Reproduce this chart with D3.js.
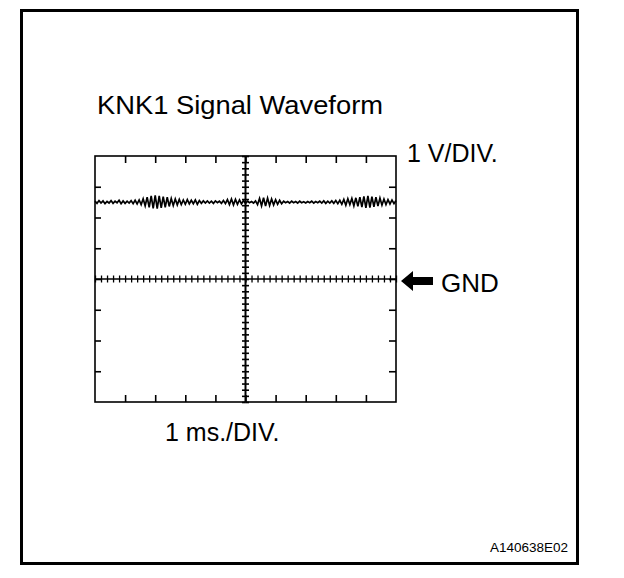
<!DOCTYPE html>
<html><head><meta charset="utf-8">
<script src="https://cdn.jsdelivr.net/npm/d3@7"></script>
<style>
html,body{margin:0;padding:0;background:#fff;}
svg{display:block;font-family:"Liberation Sans",Arial,Helvetica,sans-serif;}
</style></head>
<body>
<svg id="c" width="624" height="578"></svg>
<script>
// ---- data ----
const title = "KNK1 Signal Waveform";
const voltLabel = "1 V/DIV.";
const timeLabel = "1 ms./DIV.";
const gndLabel = "GND";
const figureId = "A140638E02";
const timeDomainMs = [0, 10];          // 10 divisions x 1 ms
const voltDomain = [-4, 4];            // 8 divisions x 1 V, GND at 0
const majorTimeTicks = [0,1,2,3,4,5,6,7,8,9,10];
const majorVoltTicks = [-4,-3,-2,-1,0,1,2,3,4];
// knock sensor signal samples (V), evenly sampled over 0..10 ms
const signalVolts = [
 2.53,2.46,2.55,2.47,2.54,2.45,2.52,2.47,2.55,2.46,2.53,2.48,2.56,2.45,2.54,2.46,2.53,2.47,2.55,2.45,2.56,2.44,2.57,
 2.42,2.61,2.38,2.66,2.33,2.70,2.30,2.72,2.29,2.70,2.31,2.68,2.33,2.66,2.36,2.62,2.39,2.60,
 2.41,2.59,2.42,2.57,2.43,2.58,2.44,2.56,2.45,2.57,2.43,2.55,2.46,2.54,2.47,
 2.54,2.47,2.53,2.46,2.54,2.48,2.53,2.46,2.55,2.45,
 2.58,2.42,2.60,2.41,2.59,2.43,2.57,2.44,2.55,2.46,
 2.53,2.48,2.52,2.47,2.54,
 2.42,2.62,2.38,2.64,2.37,2.63,2.39,2.60,2.41,2.58,2.43,2.56,2.45,
 2.53,2.48,2.52,2.47,2.53,2.48,2.52,2.47,2.53,2.48,2.51,2.47,2.52,2.48,2.53,2.47,2.52,2.48,2.53,2.47,2.54,2.46,2.53,2.47,2.54,2.46,2.55,2.45,2.56,
 2.43,2.59,2.40,2.61,2.42,2.62,2.38,2.64,2.36,2.66,2.34,2.69,2.31,2.70,2.32,2.68,2.35,2.66,2.37,2.63,2.40,2.60,2.42,2.58,2.44,
 2.57,2.45,2.55
];

// ---- drawing ----
const svg = d3.select("#c");
const x = d3.scaleLinear().domain(timeDomainMs).range([95, 396]);
const y = d3.scaleLinear().domain(voltDomain).range([402, 156]);

// outer frame
svg.append("rect").attr("x",21.5).attr("y",10.5).attr("width",556).attr("height",553)
  .attr("fill","none").attr("stroke","#000").attr("stroke-width",3);

// plot frame
svg.append("rect").attr("x",x(0)).attr("y",y(4)).attr("width",x(10)-x(0)).attr("height",y(-4)-y(4))
  .attr("fill","none").attr("stroke","#000").attr("stroke-width",1.6);

const minorT = d3.range(0, 10.001, 0.2).map(v=>+v.toFixed(2));
const minorV = d3.range(-4, 4.001, 0.2).map(v=>+v.toFixed(2));
const inner = majorTimeTicks.filter(v=>v>0&&v<10);
const innerV = majorVoltTicks.filter(v=>v>-4&&v<4);

function styleAxis(g, w){
  g.select(".domain").remove();
  g.selectAll("text").remove();
  g.selectAll("line").attr("stroke","#000").attr("stroke-width", w);
}
// border ticks pointing inward
svg.append("g").attr("transform",`translate(0,${y(4)})`)
  .call(d3.axisTop(x).tickValues(inner).tickSize(-7).tickFormat("")).call(g=>styleAxis(g,1.6));
svg.append("g").attr("transform",`translate(0,${y(-4)})`)
  .call(d3.axisBottom(x).tickValues(inner).tickSize(-7).tickFormat("")).call(g=>styleAxis(g,1.6));
svg.append("g").attr("transform",`translate(${x(0)},0)`)
  .call(d3.axisLeft(y).tickValues(innerV).tickSize(-6).tickFormat("")).call(g=>styleAxis(g,1.6));
svg.append("g").attr("transform",`translate(${x(10)},0)`)
  .call(d3.axisRight(y).tickValues(innerV).tickSize(-7).tickFormat("")).call(g=>styleAxis(g,1.6));

// centre cross
svg.append("line").attr("x1",x(0)).attr("x2",x(10)).attr("y1",y(0)).attr("y2",y(0))
  .attr("stroke","#000").attr("stroke-width",1.3);
svg.append("line").attr("x1",x(5)).attr("x2",x(5)).attr("y1",y(4)).attr("y2",y(-4))
  .attr("stroke","#000").attr("stroke-width",2);
[d3.axisTop, d3.axisBottom].forEach(a=>{
  svg.append("g").attr("transform",`translate(0,${y(0)})`)
    .call(a(x).tickValues(minorT).tickSize(3.5).tickFormat("")).call(g=>styleAxis(g,1.3));
});
[d3.axisLeft, d3.axisRight].forEach(a=>{
  svg.append("g").attr("transform",`translate(${x(5)},0)`)
    .call(a(y).tickValues(minorV).tickSize(3.5).tickFormat("")).call(g=>styleAxis(g,1.6));
});

// waveform
const n = signalVolts.length;
const times = signalVolts.map((_,i)=> timeDomainMs[0] + i*(timeDomainMs[1]-timeDomainMs[0])/(n-1));
const line = d3.line().x((d,i)=>x(times[i])).y(d=>y(d));
svg.append("path").datum(signalVolts).attr("d",line)
  .attr("fill","none").attr("stroke","#000").attr("stroke-width",1.7);

// texts
svg.append("text").attr("x",97).attr("y",114).attr("font-size",25)
  .attr("textLength",286).attr("lengthAdjust","spacingAndGlyphs").text(title);
svg.append("text").attr("x",407).attr("y",162).attr("font-size",25).text(voltLabel);
svg.append("text").attr("x",165).attr("y",441).attr("font-size",25).text(timeLabel);
svg.append("text").attr("x",441).attr("y",292).attr("font-size",26).text(gndLabel);
svg.append("text").attr("x",490).attr("y",552).attr("font-size",13.5).text(figureId);

// GND arrow
const ay = y(0)+2;
svg.append("path")
  .attr("d",`M401,${ay} L413,${ay-10} L413,${ay-4} L433,${ay-4} L433,${ay+4} L413,${ay+4} L413,${ay+10} Z`)
  .attr("fill","#000");
</script>
</body></html>
